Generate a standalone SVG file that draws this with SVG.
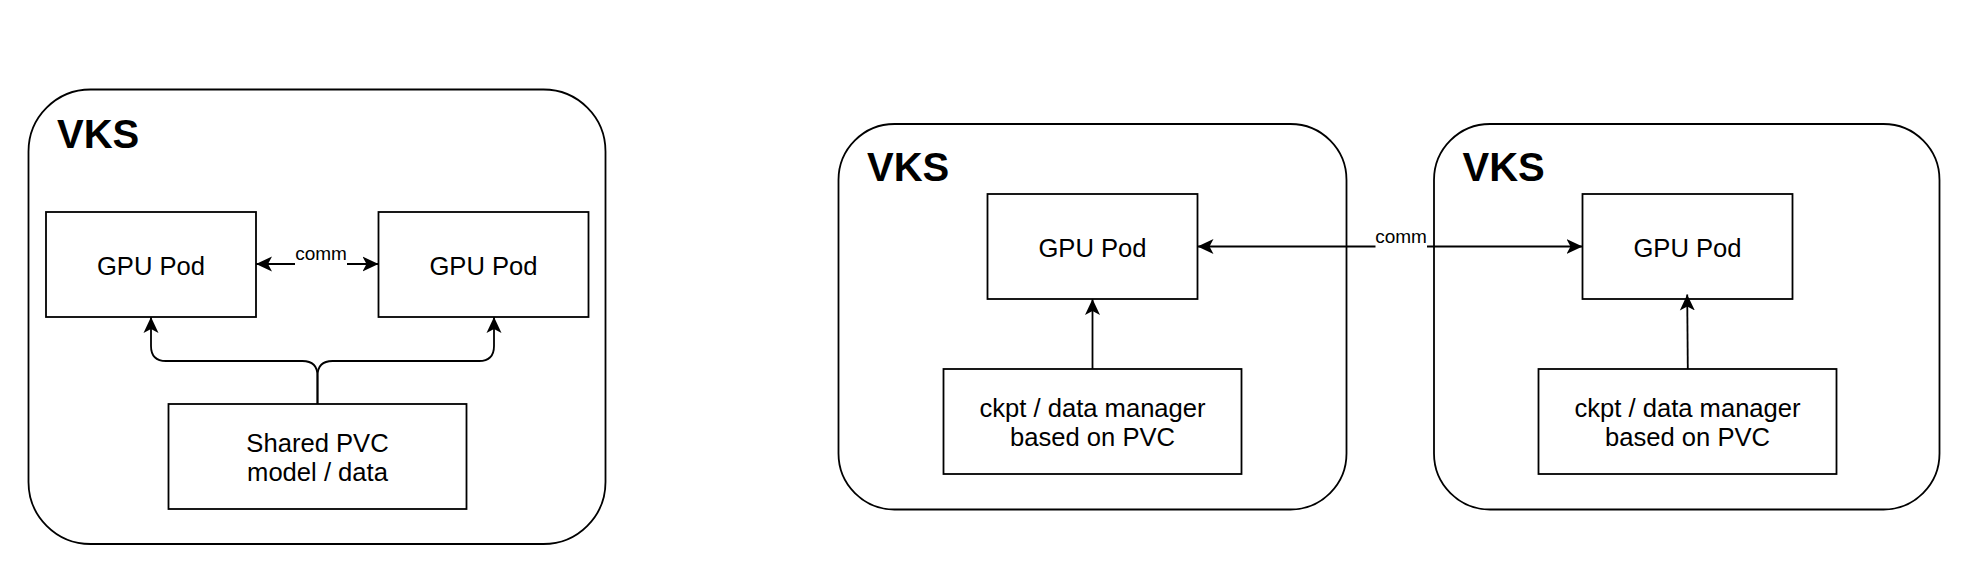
<svg xmlns="http://www.w3.org/2000/svg" width="1970" height="586" viewBox="0 0 1970 586">
  <style>
    .cont { fill: #ffffff; stroke: #000000; stroke-width: 1.8; }
    .box { fill: #ffffff; stroke: #000000; stroke-width: 1.8; }
    .title { font-family: "Liberation Sans", Arial, sans-serif; font-weight: bold; font-size: 40px; fill: #000000; }
    .lbl { font-family: "Liberation Sans", Arial, sans-serif; font-size: 25.6px; fill: #000000; text-anchor: middle; }
    .elbl { font-family: "Liberation Sans", Arial, sans-serif; font-size: 19px; fill: #000000; text-anchor: middle; }
    .edge { fill: none; stroke: #000000; stroke-width: 1.8; }
    .arr { marker-end: url(#ah); }
    .arr2 { marker-start: url(#ah); marker-end: url(#ah); }
  </style>
  <defs>
    <marker id="ah" markerUnits="userSpaceOnUse" markerWidth="17" markerHeight="16" refX="16" refY="8" orient="auto-start-reverse">
      <path d="M16,8 L0,0.5 L4,8 L0,15.5 Z" fill="#000000"/>
    </marker>
  </defs>
  <rect width="1970" height="586" fill="#ffffff"/>

  <!-- containers -->
  <g id="vks-left">
    <rect class="cont" x="28.5" y="89.5" width="577" height="454.5" rx="62" ry="62"/>
    <text class="title" x="57" y="147.5">VKS</text>
  </g>
  <g id="vks-mid">
    <rect class="cont" x="838.5" y="124" width="508" height="385.5" rx="56" ry="56"/>
    <text class="title" x="867" y="181">VKS</text>
  </g>
  <g id="vks-right">
    <rect class="cont" x="1434" y="124" width="505.5" height="385.5" rx="56" ry="56"/>
    <text class="title" x="1462.5" y="181">VKS</text>
  </g>

  <!-- nodes -->
  <g id="gpu-left-1">
    <rect class="box" x="46" y="212" width="210" height="105"/>
    <text class="lbl" x="151" y="275">GPU Pod</text>
  </g>
  <g id="gpu-left-2">
    <rect class="box" x="378.5" y="212" width="210" height="105"/>
    <text class="lbl" x="483.5" y="275">GPU Pod</text>
  </g>
  <g id="shared-pvc">
    <rect class="box" x="168.5" y="404" width="298" height="105"/>
    <text class="lbl" x="317.5" y="452">Shared PVC</text>
    <text class="lbl" x="317.5" y="481">model / data</text>
  </g>
  <g id="gpu-mid">
    <rect class="box" x="987.5" y="194" width="210" height="105"/>
    <text class="lbl" x="1092.5" y="257">GPU Pod</text>
  </g>
  <g id="ckpt-mid">
    <rect class="box" x="943.5" y="369" width="298" height="105"/>
    <text class="lbl" x="1092.5" y="417">ckpt / data manager</text>
    <text class="lbl" x="1092.5" y="446">based on PVC</text>
  </g>
  <g id="gpu-right">
    <rect class="box" x="1582.5" y="194" width="210" height="105"/>
    <text class="lbl" x="1687.5" y="257">GPU Pod</text>
  </g>
  <g id="ckpt-right">
    <rect class="box" x="1538.5" y="369" width="298" height="105"/>
    <text class="lbl" x="1687.5" y="417">ckpt / data manager</text>
    <text class="lbl" x="1687.5" y="446">based on PVC</text>
  </g>

  <!-- connectors -->
  <g id="connectors">
    <path class="edge arr2" d="M256,264 L378.5,264"/>
    <rect x="295" y="246" width="52" height="20" fill="#ffffff"/>
    <text class="elbl" x="321" y="260">comm</text>

    <path class="edge arr" d="M317.5,404 L317.5,376 Q317.5,361 302.5,361 L166,361 Q151,361 151,346 L151,317"/>
    <path class="edge arr" d="M317.5,404 L317.5,376 Q317.5,361 332.5,361 L479,361 Q494,361 494,346 L494,317"/>

    <path class="edge arr2" d="M1197.5,246.5 L1582.5,246.5"/>
    <rect x="1375.5" y="229" width="51.5" height="20" fill="#ffffff"/>
    <text class="elbl" x="1401" y="243">comm</text>

    <path class="edge arr" d="M1092.5,369 L1092.5,299"/>
    <path class="edge arr" d="M1687.8,369 L1687.2,294.5"/>
  </g>
</svg>
